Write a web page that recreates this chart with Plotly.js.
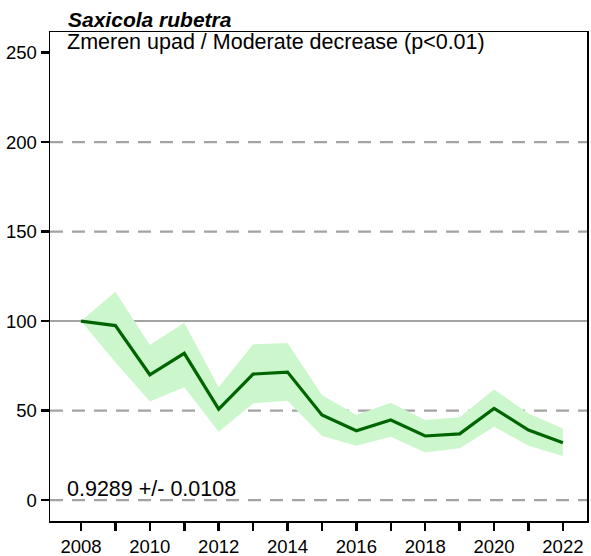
<!DOCTYPE html>
<html>
<head>
<meta charset="utf-8">
<script src="https://cdn.plot.ly/plotly-3.0.1.min.js"></script>
<style>html,body{margin:0;padding:0;background:#fff;}#chart{width:591px;height:556px;}</style>
</head>
<body>
<div id="chart"></div>
<script>
const years = [2008,2009,2010,2011,2012,2013,2014,2015,2016,2017,2018,2019,2020,2021,2022];
const index = [100,97.5,70,82,50.8,70.4,71.5,47.5,38.7,44.7,35.8,37,51.2,39.1,32];
const upper = [100,116.4,86.6,99,63,87,87.7,58.7,47.5,54.4,44.7,46.2,61.8,48.4,40];
const lower = [100,77,55,63,38.2,54,55.5,35.8,30.3,35.4,26.6,28.9,41,30.3,24.6];
const dashedGrid = [0,50,150,200];
const baseline = 100;
const yTicks = [0,50,100,150,200,250];
const xTickYears = years;
const xTickLabels = years.map(y => (y % 2 === 0 ? String(y) : ''));
const titleText = '<b><i>Saxicola rubetra</i></b>';
const trendText = 'Zmeren upad / Moderate decrease (p<0.01)';
const slopeText = '0.9289 +/- 0.0108';

const font = 'Arial, "Liberation Sans", sans-serif';

const traces = [
  {x: years, y: lower, type: 'scatter', mode: 'lines', line: {width: 0, color: '#ccf7cc'}, hoverinfo: 'skip', showlegend: false},
  {x: years, y: upper, type: 'scatter', mode: 'lines', fill: 'tonexty', fillcolor: '#ccf7cc', line: {width: 0, color: '#ccf7cc'}, hoverinfo: 'skip', showlegend: false},
  {x: years, y: index, type: 'scatter', mode: 'lines', line: {width: 3.2, color: '#006400'}, showlegend: false}
];

const shapes = dashedGrid.map(v => ({
  type: 'line', xref: 'paper', x0: 0, x1: 1, yref: 'y', y0: v, y1: v,
  line: {color: '#a3a3a3', width: 2.2, dash: '13px,9px'}, layer: 'below'
}));
shapes.push({type: 'line', xref: 'paper', x0: 0, x1: 1, yref: 'y', y0: baseline, y1: baseline,
  line: {color: '#a3a3a3', width: 2}, layer: 'below'});

const layout = {
  width: 591, height: 556,
  margin: {l: 50, r: 4, t: 32, b: 35},
  paper_bgcolor: '#fff', plot_bgcolor: '#fff',
  font: {family: font, size: 18, color: '#000'},
  title: {text: titleText, x: 68/591, xanchor: 'left', y: 1 - 20/556, yanchor: 'middle', font: {family: font, size: 21, color: '#000'}},
  xaxis: {
    range: [2007.1, 2022.7], tickvals: xTickYears, ticktext: xTickLabels,
    ticks: 'outside', ticklen: 8, tickwidth: 2.5, tickcolor: '#000',
    showgrid: false, zeroline: false, showline: true, linecolor: '#000', linewidth: 1.5, mirror: true,
    tickfont: {family: font, size: 18.5, color: '#000'}
  },
  yaxis: {
    range: [-11.7, 261.5], tickvals: yTicks,
    ticks: 'outside', ticklen: 8, tickwidth: 2.5, tickcolor: '#000',
    showgrid: false, zeroline: false, showline: true, linecolor: '#000', linewidth: 1.5, mirror: true,
    tickfont: {family: font, size: 18.5, color: '#000'}
  },
  shapes: shapes,
  annotations: [
    {text: trendText, xref: 'paper', yref: 'paper', x: 15/537, y: 1 - (42.5-32)/489, xanchor: 'left', yanchor: 'middle', showarrow: false, font: {family: font, size: 21.5, color: '#000'}},
    {text: slopeText, xref: 'paper', yref: 'paper', x: 15/537, y: 1 - (489-32)/489, xanchor: 'left', yanchor: 'middle', showarrow: false, font: {family: font, size: 21.5, color: '#000'}}
  ]
};

Plotly.newPlot('chart', traces, layout, {displayModeBar: false, staticPlot: true});
</script>
</body>
</html>
